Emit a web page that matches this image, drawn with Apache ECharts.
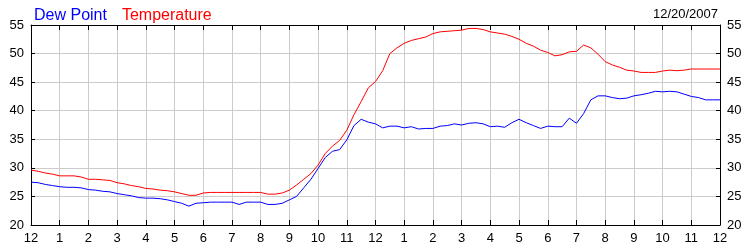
<!DOCTYPE html>
<html><head><meta charset="utf-8">
<script src="https://cdn.jsdelivr.net/npm/echarts@6/dist/echarts.min.js"></script>
<style>html,body{margin:0;padding:0;background:#fff}#c{width:750px;height:250px}</style>
</head><body><div id="c"></div>
<script>
var hourLabels = ['12','1','2','3','4','5','6','7','8','9','10','11','12','1','2','3','4','5','6','7','8','9','10','11','12'];
var dateLabel = '12/20/2007';
var yTicks = [20,25,30,35,40,45,50,55];
// quarter-hour readings, 12 AM to 12 AM
var temperature = [
29.6,29.4,29.1,28.9, 28.6,28.6,28.6,28.4, 28.0,28.0,27.9,27.8, 27.4,27.2,26.9,26.7,
26.4,26.3,26.1,26.0, 25.8,25.5,25.2,25.2, 25.6,25.7,25.7,25.7, 25.7,25.7,25.7,25.7,
25.7,25.4,25.4,25.6, 26.1,27.0,28.0,29.0, 30.5,32.5,33.8,34.8, 36.6,39.3,41.6,44.0,
45.1,47.0,50.0,51.0, 51.8,52.3,52.6,52.9, 53.5,53.8,53.9,54.0, 54.1,54.4,54.4,54.2,
53.8,53.6,53.4,53.0, 52.5,51.8,51.3,50.6, 50.2,49.6,49.8,50.3, 50.4,51.5,51.0,49.9,
48.6,48.0,47.6,47.1, 46.95,46.7,46.7,46.7, 46.95,47.1,47.0,47.1, 47.3,47.3,47.3,47.3,
47.3];
var dewPoint = [
27.5,27.4,27.1,26.9, 26.7,26.6,26.6,26.5, 26.2,26.1,25.9,25.8, 25.5,25.3,25.1,24.8,
24.7,24.7,24.6,24.4, 24.1,23.8,23.3,23.8, 23.9,24.0,24.0,24.0, 24.0,23.6,24.0,24.0,
24.0,23.6,23.6,23.8, 24.4,25.0,26.5,28.0, 29.9,31.8,32.9,33.2, 34.9,37.4,38.5,38.0,
37.7,37.0,37.3,37.3, 37.0,37.2,36.8,36.9, 36.9,37.3,37.4,37.7, 37.5,37.8,37.9,37.7,
37.2,37.3,37.1,37.9, 38.5,37.9,37.4,36.9, 37.3,37.2,37.2,38.7, 37.8,39.5,41.9,42.6,
42.6,42.3,42.1,42.2, 42.6,42.8,43.05,43.4, 43.3,43.4,43.3,42.9, 42.5,42.3,41.9,41.9,
41.9];
var times = [];
for (var i = 0; i < temperature.length; i++) { times.push(String(i)); }

var chart = echarts.init(document.getElementById('c'), null, {renderer:'canvas'});
var font = 'Arial, "Liberation Sans", sans-serif';
function xAx(pos, showLabel) {
  return {
    type:'category', data: times, boundaryGap:false, position: pos,
    axisLine:{show:true, onZero:false, lineStyle:{color:'#000', width:1}},
    axisTick:{show:true, inside:true, length:5, interval:function(i){return i%4===0;}, lineStyle:{color:'#000'}},
    axisLabel:{show:showLabel, interval:function(i){return i%4===0;}, margin:7, color:'#000', fontFamily:font, fontSize:13,
      formatter:function(v, idx){ return hourLabels[idx/4]; }},
    splitLine:{show:showLabel, interval:function(i){return i%4===0 && i>0 && i<96;}, lineStyle:{color:'#cccccc', width:1}}
  };
}
function yAx(pos, showSplit) {
  return {
    type:'value', min:20, max:55, interval:5, position: pos,
    axisLine:{show:true, lineStyle:{color:'#000', width:1}},
    axisTick:{show:true, inside:true, length:4, lineStyle:{color:'#000'}},
    axisLabel:{show:true, margin:7, color:'#000', fontFamily:font, fontSize:13},
    splitLine:{show:showSplit, lineStyle:{color:'#cccccc', width:1}}
  };
}
chart.setOption({
  animation:false,
  backgroundColor:'#fff',
  title:{text:dateLabel, right:27, top:3, textStyle:{color:'#000', fontFamily:font, fontSize:13, fontWeight:'normal'}},
  legend:{left:24, top:3, icon:'none', itemWidth:0, itemGap:10, itemHeight:14,
    data:[{name:'Dew Point', textStyle:{color:'#0000ff'}},{name:'Temperature', textStyle:{color:'#ff0000'}}],
    textStyle:{fontFamily:font, fontSize:16}},
  grid:{left:31, right:30, top:25, bottom:25, containLabel:false},
  xAxis:[xAx('bottom', true), xAx('top', false)],
  yAxis:[yAx('left', true), yAx('right', false)],
  series:[
    {name:'Dew Point', type:'line', data:dewPoint, xAxisIndex:0, yAxisIndex:0, showSymbol:false, symbol:'none',
      lineStyle:{color:'#0000ff', width:1}, itemStyle:{color:'#0000ff'}},
    {name:'Temperature', type:'line', data:temperature, xAxisIndex:0, yAxisIndex:0, showSymbol:false, symbol:'none',
      lineStyle:{color:'#ff0000', width:1}, itemStyle:{color:'#ff0000'}}
  ]
});
</script></body></html>
